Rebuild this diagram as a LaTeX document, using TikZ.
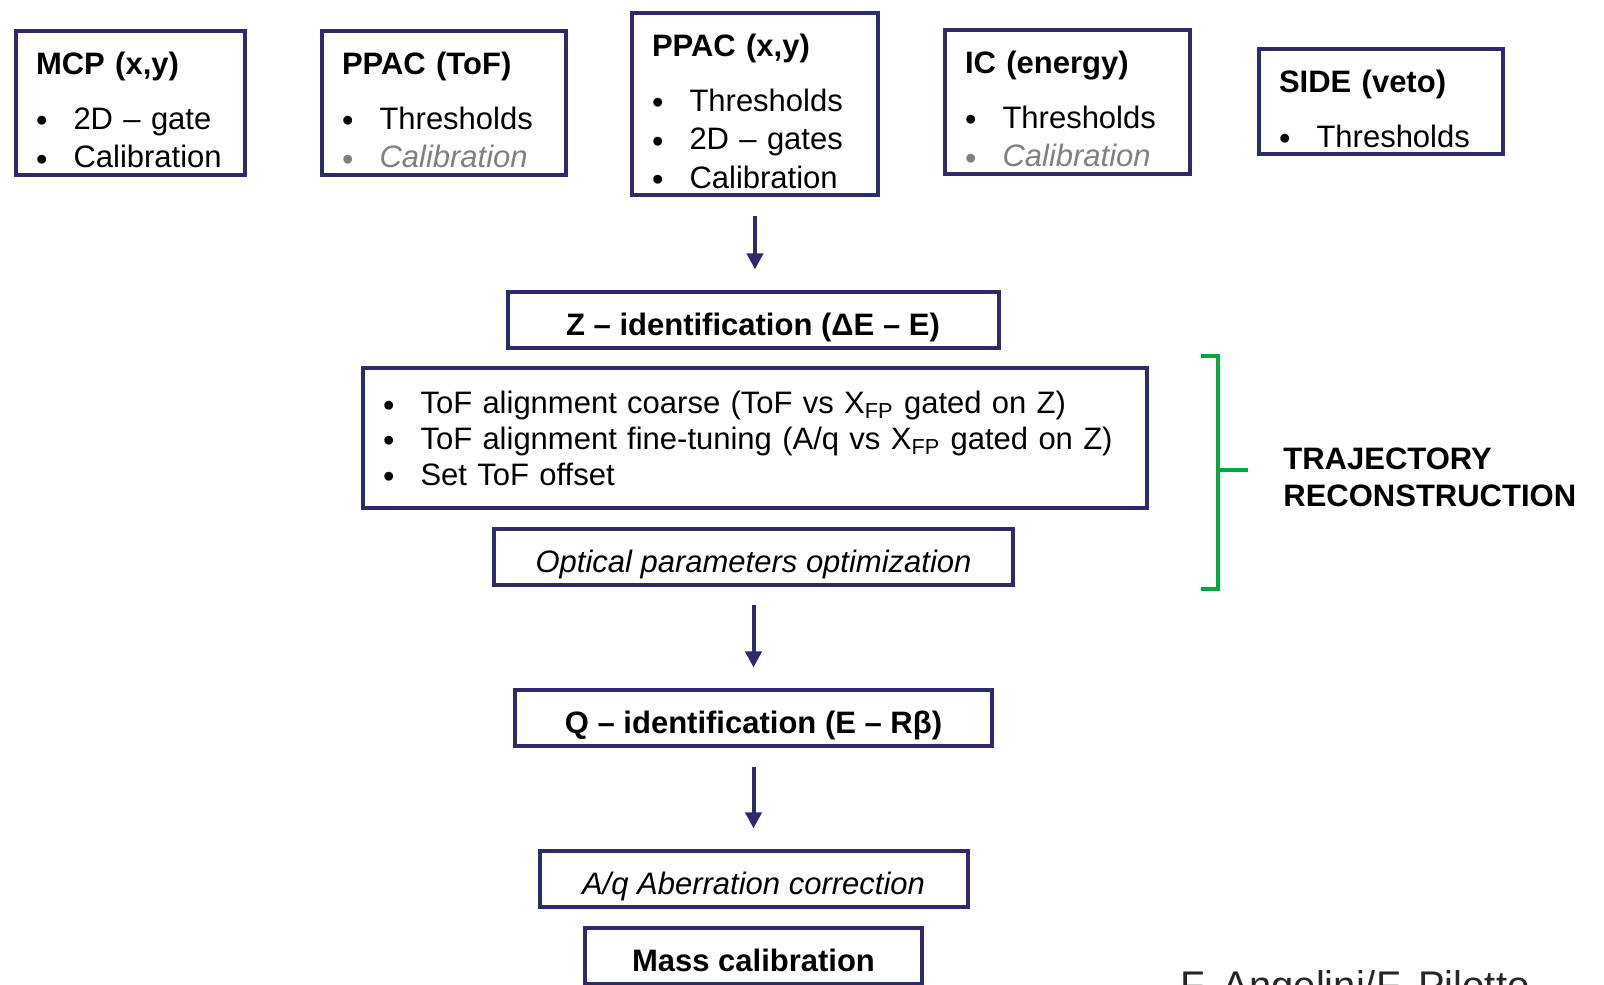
\documentclass[tikz,border=0pt]{standalone}
\usepackage{fontspec}
\setmainfont{Liberation Sans}
\usepackage{graphicx}
\usetikzlibrary{arrows.meta}

\definecolor{navy}{RGB}{45,42,110}
\definecolor{brgreen}{RGB}{0,168,62}
\definecolor{calgray}{RGB}{128,128,128}

\newcommand{\bul}{\raisebox{-1.2pt}{\scalebox{1.05}{\textbullet}}}
\newcommand{\ttl}[1]{\mbox{\rule{0pt}{22pt}\textbf{#1}}}
\newcommand{\itm}[1]{\mbox{\makebox[18.75pt][l]{\bul}#1\rule[-3.5pt]{0pt}{3.5pt}}}
\newcommand{\gitm}[1]{\mbox{\color{calgray}\makebox[18.75pt][l]{\bul}\textit{#1}\rule[-3.5pt]{0pt}{3.5pt}}}

\begin{document}
\begin{tikzpicture}[x=0.5pt,y=-0.5pt,
  det/.style={draw=navy,line width=2pt,anchor=north west,align=left,inner xsep=10pt,inner ysep=0pt,font=\fontsize{15.5}{19.25}\selectfont},
  stage/.style={draw=navy,line width=2pt,minimum height=28pt,inner sep=0pt,text height=15.5pt,text depth=0pt,font=\fontsize{15.5}{18}\selectfont},
  flow/.style={draw=navy,line width=2pt,-{Triangle[width=8pt,length=8pt]},shorten <=9.3pt,shorten >=10.3pt}]
\useasboundingbox (0,0) rectangle (1604,984);

% detectors
\node[det,text width=94.5pt] (mcp) at (14,29) {\ttl{MCP (x,y)}\\[8pt] \itm{2D – gate}\\ \itm{Calibration}};
\node[det,text width=102pt] (tof) at (320,29) {\ttl{PPAC (ToF)}\\[8pt] \itm{Thresholds}\\ \gitm{Calibration}};
\node[det,text width=103pt] (ppac) at (630,11) {\ttl{PPAC (x,y)}\\[8pt] \itm{Thresholds}\\ \itm{2D – gates}\\ \itm{Calibration}};
\node[det,text width=102.5pt] (ic) at (943,28) {\ttl{IC (energy)}\\[8pt] \itm{Thresholds}\\ \gitm{Calibration}};
\node[det,text width=102pt] (side) at (1257,47) {\ttl{SIDE (veto)}\\[8pt] \itm{Thresholds}};

% analysis chain
\node[stage,minimum width=245.5pt] (zid) at (753,320) {\textbf{Z – identification (ΔE – E)}};
\node[det,text width=372pt] (align) at (361,366) {\rule{0pt}{22.85pt}\itm{ToF alignment coarse (ToF vs X\textsubscript{FP} gated on Z)}\\[-1.35pt]
  \itm{ToF alignment fine-tuning (A/q vs X\textsubscript{FP} gated on Z)}\\[-1.35pt]
  \itm{Set ToF offset\rule[-11.5pt]{0pt}{11.5pt}}};
\node[stage,minimum width=259.5pt] (optic) at (753.5,556.5) {\textit{Optical parameters optimization}};
\node[stage,minimum width=238.5pt] (qid) at (753.5,718) {\textbf{Q – identification (E – Rβ)}};
\node[stage,minimum width=214pt] (aberr) at (753.5,879) {\textit{A/q Aberration correction}};
\node[stage,minimum width=168.5pt] (mass) at (753.5,956) {\textbf{Mass calibration}};

\draw[flow] (ppac.south) -- (ppac.south |- zid.north);
\draw[flow] (optic.south) -- (optic.south |- qid.north);
\draw[flow] (qid.south) -- (qid.south |- aberr.north);

% trajectory bracket
\draw[brgreen,line width=2pt] (1201,356) -- (1218,356) -- (1218,589) -- (1201,589);
\draw[brgreen,line width=2pt] (1218,470) -- (1248,470);
\node[font=\bfseries\fontsize{15.5}{18.5}\selectfont,align=left,anchor=west,inner sep=0pt] (traj) at (1283,477) {TRAJECTORY\\RECONSTRUCTION};

\node[font=\fontsize{20}{24}\selectfont,text=black!85,anchor=base west,inner sep=0pt] (credit) at (1180,999) {F. Angelini/F. Pilotto};
\end{tikzpicture}
\end{document}
